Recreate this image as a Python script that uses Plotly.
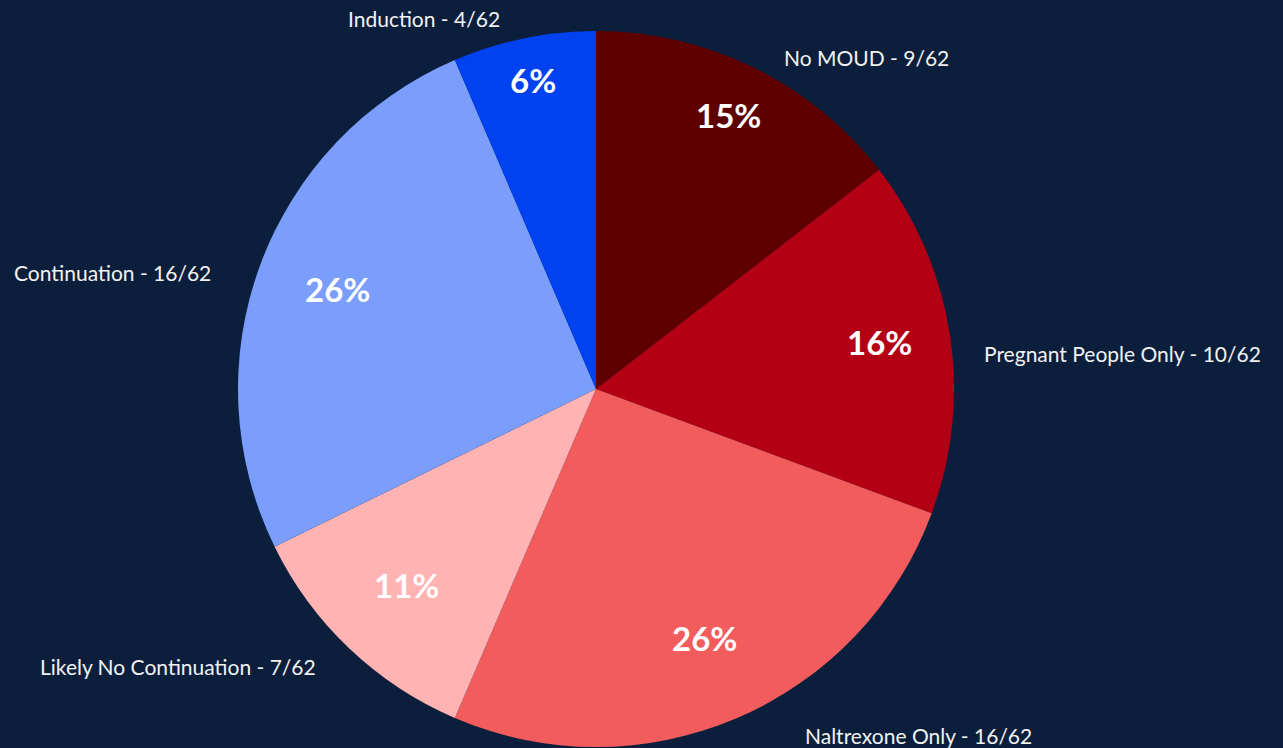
import math
import plotly.graph_objects as go

# ---- data ----
categories = ["No MOUD", "Pregnant People Only", "Naltrexone Only",
              "Likely No Continuation", "Continuation", "Induction"]
counts = [9, 10, 16, 7, 16, 4]
total = 62

# ---- styles ----
colors = ["#5e0000", "#b30014", "#f25c5c", "#ffb3b3", "#7b9dfb", "#0041f0"]
bg = "#0b1f3c"
W, H = 1283, 748
cx, cy, R = 596, 389, 358
pct_radius_frac = [0.84, 0.80, 0.77, 0.77, 0.77, 0.87]
# outside label anchors (pixel, left-aligned x, centre y)
label_pos = [(782, 58), (982, 353), (803, 735), (38, 666), (12, 272), (346, 19)]

fig = go.Figure()
fig.add_trace(go.Pie(
    labels=categories, values=counts, sort=False, direction="clockwise",
    rotation=0, marker=dict(colors=colors, line=dict(width=0)),
    textinfo="none", hoverinfo="label+value+percent", showlegend=False,
    domain=dict(x=[(cx - R) / W, (cx + R) / W], y=[1 - (cy + R) / H, 1 - (cy - R) / H]),
))

annotations = []
cum = 0
for i, (cat, v) in enumerate(zip(categories, counts)):
    mid = (cum + v / 2) / total * 2 * math.pi
    cum += v
    r = R * pct_radius_frac[i]
    px = cx + r * math.sin(mid)
    py = cy - r * math.cos(mid)
    annotations.append(dict(
        x=px / W, y=1 - py / H, xref="paper", yref="paper",
        text=f"{round(v / total * 100)}%", showarrow=False,
        xanchor="center", yanchor="middle", yshift=4,
        font=dict(family="Lato", size=33, color="white", weight="bold"),
    ))
    lx, ly = label_pos[i]
    annotations.append(dict(
        x=lx / W, y=1 - ly / H, xref="paper", yref="paper",
        text=f"{cat} - {v}/{total}", showarrow=False,
        xanchor="left", yanchor="middle",
        font=dict(family="Lato", size=21, color="#f2f2f2"),
    ))

fig.update_layout(
    width=W, height=H, margin=dict(l=0, r=0, t=0, b=0),
    paper_bgcolor=bg, plot_bgcolor=bg, annotations=annotations,
)
fig.write_html(
    "out.html",
    config={"displayModeBar": False},
    post_script="document.body.style.margin='0';document.body.style.overflow='hidden';"
                "document.body.style.background='" + bg + "';",
)
